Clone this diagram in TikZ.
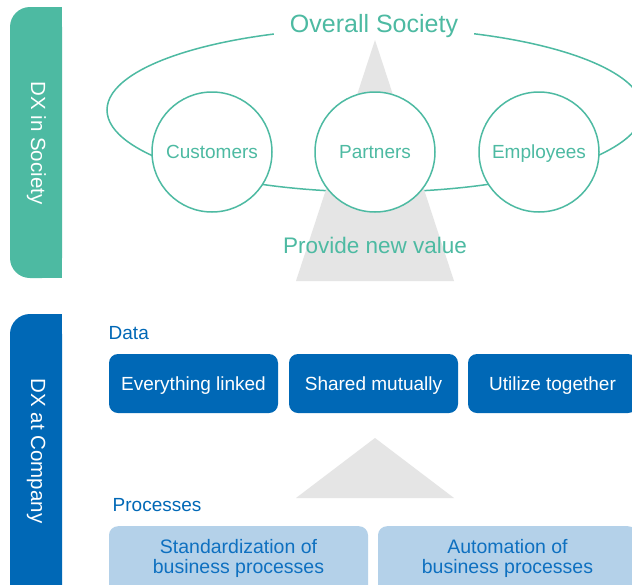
\documentclass[tikz,border=0pt]{standalone}
\usepackage{fontspec}
\setmainfont{Liberation Sans}
\definecolor{tealc}{RGB}{77,186,162}
\definecolor{bluec}{RGB}{0,104,182}
\definecolor{lightbluec}{RGB}{180,209,233}
\definecolor{lbtext}{RGB}{14,112,192}
\definecolor{grayc}{RGB}{229,229,229}
\begin{document}
\begin{tikzpicture}[x=1pt,y=-1pt,
  circ/.style={circle, draw=tealc, fill=white, line width=1.5pt, minimum size=120pt, inner sep=0pt,
    text=tealc, font=\fontsize{19}{22}\selectfont, text height=13.6pt, text depth=0pt},
  databox/.style={rectangle, rounded corners=9pt, fill=bluec, minimum width=169pt, minimum height=59pt,
    inner sep=0pt, text=white, font=\fontsize{19}{22}\selectfont, text height=13.6pt, text depth=0pt},
  procbox/.style={rectangle, rounded corners=9pt, fill=lightbluec, minimum width=259pt, minimum height=80pt,
    inner sep=0pt, anchor=north},
  proctext/.style={anchor=north, inner sep=0pt, align=center, text=lbtext, font=\fontsize{19.5}{20}\selectfont},
  sidetext/.style={rotate=-90, anchor=base, inner sep=0pt, text=white, font=\fontsize{20.5}{24}\selectfont},
  heading/.style={anchor=base west, inner sep=0pt, text=bluec, font=\fontsize{19}{22}\selectfont}
]
\clip (0,0) rectangle (632,584);
\fill[white] (0,0) rectangle (632,584);

% sidebars
\fill[tealc, rounded corners=20pt] (10,7) rectangle (62,278);
\fill[tealc] (40,7) rectangle (62,278);
\fill[bluec, rounded corners=20pt] (10,314) rectangle (62,620);
\fill[bluec] (40,314) rectangle (62,620);
\node[sidetext] (dxs) at (31,143) {DX in Society};
\node[sidetext] (dxc) at (31,451) {DX at Company};

% society ellipse
\draw[tealc, line width=1.5pt] (375,110) ellipse [x radius=268pt, y radius=82pt];
\node[anchor=base, fill=white, inner xsep=16pt, inner ysep=1pt, text=tealc,
  font=\fontsize{25}{30}\selectfont] (soc) at (374,32) {Overall Society};

% upper triangle
\fill[grayc] (375,40) -- (296,281) -- (454,281) -- cycle;

% circles
\node[circ] (cust) at (212,152) {Customers};
\node[circ] (part) at (375,152) {Partners};
\node[circ] (empl) at (539,152) {Employees};

\node[anchor=base, inner sep=0pt, text=tealc, font=\fontsize{22.5}{26}\selectfont] (value) at (375,253) {Provide new value};

% data
\node[heading] (data) at (108.5,339) {Data};
\node[databox] (b1) at (193.5,383.5) {Everything linked};
\node[databox] (b2) at (373.5,383.5) {Shared mutually};
\node[databox] (b3) at (552.5,383.5) {Utilize together};

% lower triangle
\fill[grayc] (375,438) -- (296,498) -- (454,498) -- cycle;

% processes
\node[heading] (proc) at (112.5,511) {Processes};
\node[procbox] (p1) at (238.5,526) {};
\node[procbox] (p2) at (507.5,526) {};
\node[proctext] (p1t) at (238.5,539) {Standardization of\\business processes};
\node[proctext] (p2t) at (507.5,539) {Automation of\\business processes};
\end{tikzpicture}
\end{document}
